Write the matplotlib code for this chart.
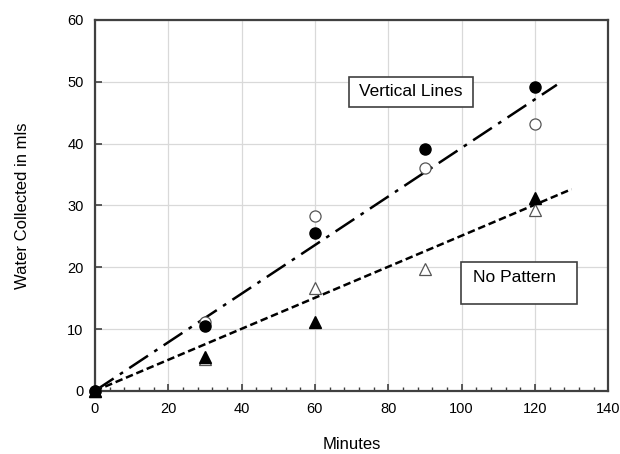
import matplotlib
matplotlib.use('Agg')
import matplotlib.pyplot as plt
from matplotlib.patches import Rectangle
import numpy as np

plt.rcParams['font.family'] = ['Liberation Sans', 'DejaVu Sans']

minutes = [0, 30, 60, 90, 120]
vert_filled = [0, 10.5, 25.5, 39.1, 49.2]
vert_open = [0, 11.2, 28.3, 36.1, 43.1]
nopat_x = [0, 30, 60, 120]
nopat_filled = [0, 5.5, 11.2, 31.2]
nopat_open_x = [0, 30, 60, 90, 120]
nopat_open = [0, 5.2, 16.7, 19.7, 29.3]

vert_slope, vert_end = 0.393, 126
nopat_slope, nopat_end = 0.251, 130

fig = plt.figure(figsize=(6.2, 4.54), dpi=100)
ax = fig.add_axes([0.153, 0.139, 0.828, 0.817])

ax.grid(True, color='#d9d9d9', linewidth=0.9)
ax.set_axisbelow(True)

xv = np.array([0, vert_end])
ax.plot(xv, vert_slope * xv, color='black', linewidth=1.8,
        dashes=(9, 3, 1.5, 3), zorder=3)
xn = np.array([0, nopat_end])
ax.plot(xn, nopat_slope * xn, color='black', linewidth=1.8,
        dashes=(3, 1.5), zorder=3)

ax.plot(minutes, vert_open, 'o', markerfacecolor='white', markeredgecolor='#555555',
        markersize=8, markeredgewidth=0.9, linestyle='none', zorder=4, clip_on=False)
ax.plot(minutes, vert_filled, 'o', color='black', markersize=8, linestyle='none',
        zorder=5, clip_on=False)
ax.plot(nopat_open_x, nopat_open, '^', markerfacecolor='white', markeredgecolor='#555555',
        markersize=8, markeredgewidth=0.9, linestyle='none', zorder=4, clip_on=False)
ax.plot(nopat_x, nopat_filled, '^', color='black', markersize=8, linestyle='none',
        zorder=5, clip_on=False)

ax.set_xlim(0, 140)
ax.set_ylim(0, 60)
ax.set_xticks(range(0, 141, 20))
ax.set_xticks(range(0, 141, 4), minor=True)
ax.set_yticks(range(0, 61, 10))
ax.tick_params(axis='both', direction='in', labelsize=10.5, colors='#404040',
               labelcolor='black', length=5, width=1.2, pad=8)
ax.tick_params(axis='x', which='minor', direction='in', length=3, width=1.0, colors='#404040')
for s in ax.spines.values():
    s.set_color('#404040')
    s.set_linewidth(1.6)

ax.set_xlabel('Minutes', fontsize=12, labelpad=15)
ax.set_ylabel('Water Collected in mls', fontsize=12, labelpad=27)

# text boxes
ax.add_patch(Rectangle((69.3, 45.9), 33.9, 4.9, facecolor='white', edgecolor='#404040',
                       linewidth=1.2, zorder=6))
ax.text(86.2, 48.4, 'Vertical Lines', fontsize=12.5, ha='center', va='center', zorder=7)
ax.add_patch(Rectangle((99.9, 14.1), 31.6, 6.8, facecolor='white', edgecolor='#404040',
                       linewidth=1.2, zorder=6))
ax.text(103.2, 18.4, 'No Pattern', fontsize=12.5, ha='left', va='center', zorder=7)

fig.savefig('out.png', dpi=100)
